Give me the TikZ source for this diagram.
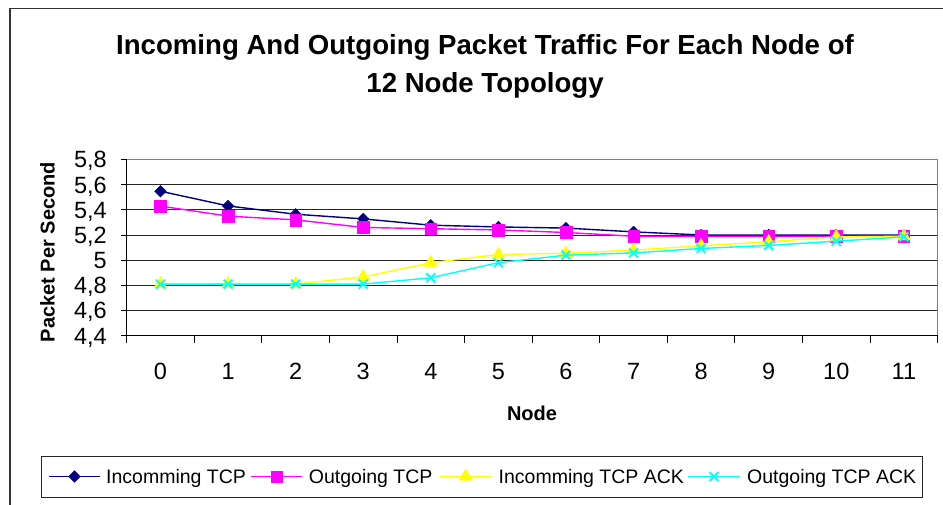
\documentclass[tikz,border=0pt]{standalone}
\usepackage{fontspec}
\setmainfont{Liberation Sans}
\usetikzlibrary{plotmarks}

\definecolor{sernavy}{RGB}{0,0,128}
\definecolor{sermag}{RGB}{255,0,255}
\definecolor{seryel}{RGB}{255,255,0}
\definecolor{sercyan}{RGB}{0,255,255}

\tikzset{
  titletext/.style={font=\fontsize{27.6}{33}\selectfont\bfseries, inner sep=0pt},
  ticktext/.style={font=\fontsize{23.5}{28}\selectfont, inner sep=0pt},
  axistitle/.style={font=\fontsize{20}{24}\selectfont\bfseries, inner sep=0pt},
  legendtext/.style={font=\fontsize{19.5}{23}\selectfont, inner sep=0pt, anchor=base west},
  gridline/.style={black!85, line width=0.9pt},
  axisline/.style={black, line width=1pt},
  frameline/.style={gray, line width=1pt},
  serA/.style={sernavy, line width=1.4pt, mark=square*, mark size=4.1pt,
    mark options={rotate=45, fill=sernavy, draw=sernavy, line width=0.4pt}},
  serB/.style={sermag, line width=1.4pt, mark=square*, mark size=5.8pt,
    mark options={fill=sermag, draw=sermag, line width=0.4pt}},
  serC/.style={seryel, line width=1.4pt, mark=triangle*, mark size=7.5pt,
    mark options={fill=seryel, draw=seryel, line width=0.4pt}},
  serD/.style={sercyan, line width=1.4pt, mark=x, mark size=6.3pt,
    mark options={draw=sercyan, line width=1.8pt}},
}

\begin{document}
\begin{tikzpicture}[x=1pt,y=1pt]
\useasboundingbox (0,0) rectangle (943,504);
\fill[white] (0,0) rectangle (943,504);

% chart frame (runs past the page edges)
\draw[black!80, line width=1.3pt] (10,-10) -- (10,495.5) -- (960,495.5);

% title
\node[titletext, anchor=base] (title1) at (485,449.7) {Incoming And Outgoing Packet Traffic For Each Node of};
\node[titletext, anchor=base] (title2) at (485,411.5) {12 Node Topology};

% axis titles
\node[axistitle, rotate=90] (ylabel) at (47.5,252) {Packet Per Second};
\node[axistitle, anchor=base] (xlabel) at (532,84) {Node};

% plot area: x in categories, y in packets per second
\begin{scope}[shift={(126.7pt,-385.48pt)}, x=67.58pt, y=125.86pt]
  \foreach \v in {4.6,4.8,5.0,5.2,5.4,5.6}
    \draw[gridline] (0,\v) -- (12,\v);
  \draw[frameline] (0,5.8) -- (12,5.8) -- (12,4.4);
  \draw[axisline] (0,5.8) -- (0,4.4) -- (12,4.4);

  \foreach \v/\lab in {4.4/{4,4},4.6/{4,6},4.8/{4,8},5.0/{5},5.2/{5,2},5.4/{5,4},5.6/{5,6},5.8/{5,8}}{
    \draw[axisline] (0,\v) -- ++(-6pt,0);
    \node[ticktext, anchor=base east] at ([xshift=-19.7pt,yshift=-8.4pt]0,\v) {\lab};
  }
  \foreach \k in {0,...,12}
    \draw[axisline] (\k,4.4) -- ++(0,-7pt);
  \foreach \k in {0,...,11}
    \node[ticktext, anchor=base] at ([yshift=-44.3pt]\k+0.5,4.4) {\k};

  % Incomming TCP
  \draw[serA] plot coordinates {(0.5,5.548) (1.5,5.431) (2.5,5.365) (3.5,5.328)
    (4.5,5.278) (5.5,5.264) (6.5,5.255) (7.5,5.225) (8.5,5.2) (9.5,5.2) (10.5,5.2) (11.5,5.2)};
  % Outgoing TCP
  \draw[serB] plot coordinates {(0.5,5.43) (1.5,5.35) (2.5,5.32) (3.5,5.26)
    (4.5,5.25) (5.5,5.24) (6.5,5.22) (7.5,5.19) (8.5,5.19) (9.5,5.19) (10.5,5.19) (11.5,5.19)};
  % Incomming TCP ACK
  \draw[serC] plot coordinates {(0.5,4.81) (1.5,4.81) (2.5,4.81) (3.5,4.867)
    (4.5,4.98) (5.5,5.045) (6.5,5.055) (7.5,5.08) (8.5,5.114) (9.5,5.146) (10.5,5.185) (11.5,5.19)};
  % Outgoing TCP ACK
  \draw[serD] plot coordinates {(0.5,4.81) (1.5,4.81) (2.5,4.81) (3.5,4.81)
    (4.5,4.86) (5.5,4.98) (6.5,5.04) (7.5,5.058) (8.5,5.093) (9.5,5.117) (10.5,5.151) (11.5,5.185)};
\end{scope}

% legend
\draw[black!85, line width=0.8pt] (41.3,7) rectangle (922.7,48);
\draw[serA, mark=none] (48.5,27.5) -- (100.4,27.5);
\draw[serA] plot coordinates {(74.5,27.5)};
\node[legendtext] (legA) at (106,20.5) {Incomming TCP};
\draw[serB, mark=none] (251,27.5) -- (302,27.5);
\draw[serB] plot coordinates {(276.5,27.5)};
\node[legendtext] (legB) at (308.7,20.5) {Outgoing TCP};
\draw[serC, mark=none] (439.7,27.5) -- (491.6,27.5);
\draw[serC] plot coordinates {(465.7,27.5)};
\node[legendtext] (legC) at (498.5,20.5) {Incomming TCP ACK};
\draw[serD, mark=none] (688,27.5) -- (740,27.5);
\draw[serD] plot coordinates {(714,27.5)};
\node[legendtext] (legD) at (747,20.5) {Outgoing TCP ACK};
\end{tikzpicture}
\end{document}
